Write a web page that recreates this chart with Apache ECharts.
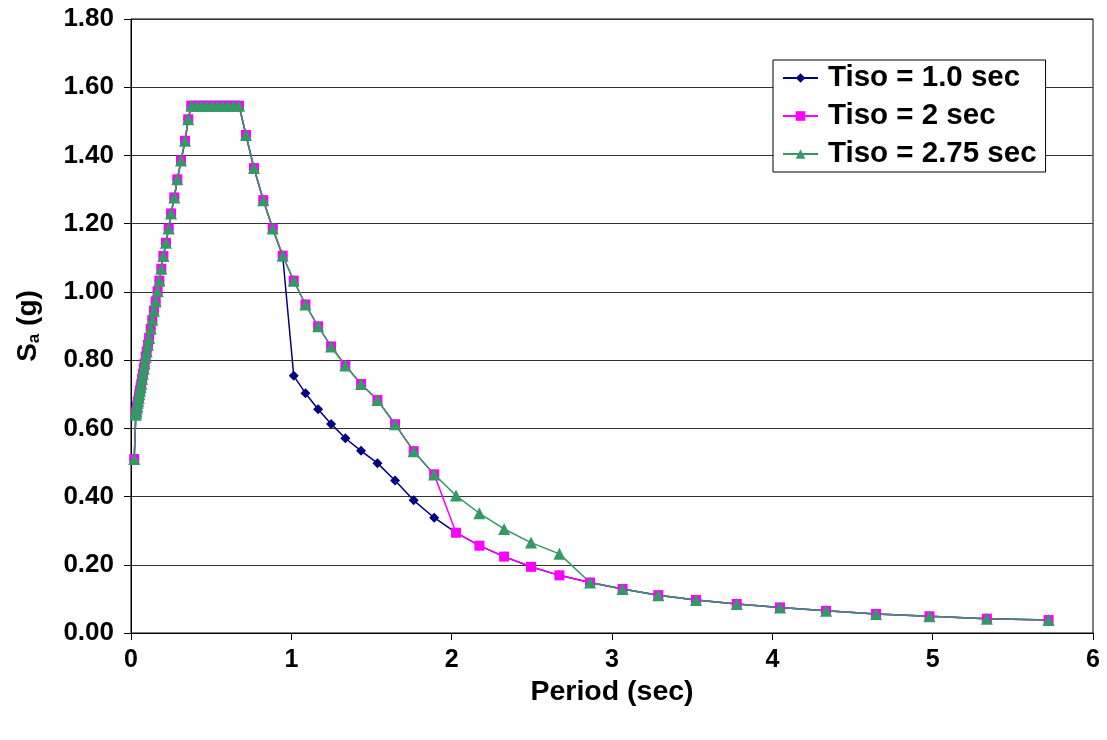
<!DOCTYPE html>
<html>
<head>
<meta charset="utf-8">
<script src="https://cdn.jsdelivr.net/npm/echarts@6/dist/echarts.min.js"></script>
<style>
html,body{margin:0;padding:0;background:#fff;}
#chart{width:1107px;height:740px;}
</style>
</head>
<body>
<div id="chart"></div>
<script>
// Period values (sec), shared by all series
const periods = [
  0.020, 0.030, 0.032, 0.034, 0.037, 0.039, 0.042, 0.045, 0.049, 0.052,
  0.056, 0.060, 0.064, 0.069, 0.074, 0.080, 0.085, 0.092, 0.098, 0.106,
  0.113, 0.123, 0.133, 0.143, 0.154, 0.166, 0.177, 0.189, 0.202, 0.218,
  0.235, 0.250, 0.270, 0.289, 0.312, 0.337, 0.357,
  0.376, 0.409, 0.442, 0.475, 0.508, 0.541, 0.574, 0.607, 0.640, 0.674,
  0.717, 0.767, 0.825, 0.884, 0.946,
  1.015, 1.088, 1.167, 1.248, 1.337, 1.435, 1.537, 1.647, 1.763, 1.891,
  2.027, 2.173, 2.327, 2.495, 2.672,
  2.863, 3.066, 3.289, 3.524, 3.778, 4.048, 4.335, 4.647, 4.980, 5.338, 5.723
];

// Sa (g) for Tiso = 1.0 sec
const saTiso10 = [
  0.51, 0.64, 0.645, 0.65, 0.66, 0.665, 0.675, 0.68, 0.69, 0.70,
  0.71, 0.72, 0.73, 0.745, 0.76, 0.775, 0.79, 0.81, 0.825, 0.845,
  0.865, 0.892, 0.918, 0.945, 0.972, 1.002, 1.033, 1.068, 1.105, 1.144,
  1.186, 1.230, 1.277, 1.330, 1.385, 1.443, 1.506,
  1.546, 1.546, 1.546, 1.546, 1.546, 1.546, 1.546, 1.546, 1.546, 1.546,
  1.460, 1.363, 1.269, 1.186, 1.106,
  0.754, 0.703, 0.656, 0.613, 0.571, 0.534, 0.498, 0.447, 0.389, 0.338,
  0.294, 0.256, 0.224, 0.194, 0.169,
  0.148, 0.129, 0.111, 0.097, 0.085, 0.075, 0.065, 0.056, 0.049, 0.042, 0.038
];

// Sa (g) for Tiso = 2 sec
const saTiso20 = [
  0.51, 0.64, 0.645, 0.65, 0.66, 0.665, 0.675, 0.68, 0.69, 0.70,
  0.71, 0.72, 0.73, 0.745, 0.76, 0.775, 0.79, 0.81, 0.825, 0.845,
  0.865, 0.892, 0.918, 0.945, 0.972, 1.002, 1.033, 1.068, 1.105, 1.144,
  1.186, 1.230, 1.277, 1.330, 1.385, 1.443, 1.506,
  1.546, 1.546, 1.546, 1.546, 1.546, 1.546, 1.546, 1.546, 1.546, 1.546,
  1.460, 1.363, 1.269, 1.186, 1.106,
  1.033, 0.963, 0.899, 0.840, 0.784, 0.730, 0.683, 0.612, 0.533, 0.465,
  0.294, 0.256, 0.224, 0.194, 0.169,
  0.148, 0.129, 0.111, 0.097, 0.085, 0.075, 0.065, 0.056, 0.049, 0.042, 0.038
];

// Sa (g) for Tiso = 2.75 sec
const saTiso275 = [
  0.51, 0.64, 0.645, 0.65, 0.66, 0.665, 0.675, 0.68, 0.69, 0.70,
  0.71, 0.72, 0.73, 0.745, 0.76, 0.775, 0.79, 0.81, 0.825, 0.845,
  0.865, 0.892, 0.918, 0.945, 0.972, 1.002, 1.033, 1.068, 1.105, 1.144,
  1.186, 1.230, 1.277, 1.330, 1.385, 1.443, 1.506,
  1.546, 1.546, 1.546, 1.546, 1.546, 1.546, 1.546, 1.546, 1.546, 1.546,
  1.460, 1.363, 1.269, 1.186, 1.106,
  1.033, 0.963, 0.899, 0.840, 0.784, 0.730, 0.683, 0.612, 0.533, 0.465,
  0.403, 0.351, 0.305, 0.265, 0.232,
  0.148, 0.129, 0.111, 0.097, 0.085, 0.075, 0.065, 0.056, 0.049, 0.042, 0.038
];

const seriesNames = ['Tiso = 1.0 sec', 'Tiso = 2 sec', 'Tiso = 2.75 sec'];
const xTicks = [0, 1, 2, 3, 4, 5, 6];
const yTicks = [0, 0.2, 0.4, 0.6, 0.8, 1.0, 1.2, 1.4, 1.6, 1.8];

function pairs(ys) { return periods.map((t, i) => [t, ys[i]]); }

const FONT = '"Liberation Sans", Arial, sans-serif';
const chart = echarts.init(document.getElementById('chart'), null, {renderer: 'canvas'});
chart.setOption({
  animation: false,
  backgroundColor: '#ffffff',
  textStyle: {fontFamily: FONT},
  grid: {left: 131, right: 14, top: 19, bottom: 107, show: true, borderColor: '#000', borderWidth: 1},
  legend: {
    orient: 'vertical',
    left: 773, top: 60,
    padding: [3, 9, 3, 9],
    itemGap: 8,
    itemWidth: 35, itemHeight: 12,
    borderColor: '#000', borderWidth: 1,
    backgroundColor: '#fff',
    textStyle: {fontFamily: FONT, fontWeight: 'bold', fontSize: 29.5, color: '#000', padding: [0, 0, 0, 5]},
    data: seriesNames
  },
  xAxis: {
    type: 'value',
    min: xTicks[0], max: xTicks[xTicks.length - 1], interval: 1,
    name: 'Period (sec)', nameLocation: 'middle', nameGap: 45,
    nameTextStyle: {fontFamily: FONT, fontWeight: 'bold', fontSize: 28.5, color: '#000'},
    axisLine: {show: true, lineStyle: {color: '#000', width: 1}},
    axisTick: {show: true, length: 7, lineStyle: {color: '#000'}},
    axisLabel: {fontFamily: FONT, fontWeight: 'bold', fontSize: 25, color: '#000', margin: 15},
    splitLine: {show: false}
  },
  yAxis: {
    type: 'value',
    min: yTicks[0], max: yTicks[yTicks.length - 1], interval: 0.2,
    name: '{b|S}{s|a}{b| (g)}', nameLocation: 'middle', nameGap: 88,
    nameTextStyle: {
      rich: {
        b: {fontFamily: FONT, fontWeight: 'bold', fontSize: 28, color: '#000'},
        s: {fontFamily: FONT, fontWeight: 'bold', fontSize: 17, color: '#000', padding: [12, 0, 0, 0]}
      }
    },
    axisLine: {show: true, lineStyle: {color: '#000', width: 1}},
    axisTick: {show: true, length: 7, lineStyle: {color: '#000'}},
    axisLabel: {fontFamily: FONT, fontWeight: 'bold', fontSize: 26, color: '#000', margin: 17,
      formatter: v => v.toFixed(2)},
    splitLine: {show: true, lineStyle: {color: '#333', width: 1}}
  },
  series: [
    {name: seriesNames[0], type: 'line', data: pairs(saTiso10), color: '#000080',
     symbol: 'diamond', symbolSize: 10, lineStyle: {width: 1.5, color: '#000080'},
     itemStyle: {color: '#000080'}},
    {name: seriesNames[1], type: 'line', data: pairs(saTiso20), color: '#FF00FF',
     symbol: 'rect', symbolSize: 10, lineStyle: {width: 1.5, color: '#FF00FF'},
     itemStyle: {color: '#FF00FF'}},
    {name: seriesNames[2], type: 'line', data: pairs(saTiso275), color: '#339966',
     symbol: 'triangle', symbolSize: 12, lineStyle: {width: 1.5, color: '#339966'},
     itemStyle: {color: '#339966'}}
  ]
});
</script>
</body>
</html>
